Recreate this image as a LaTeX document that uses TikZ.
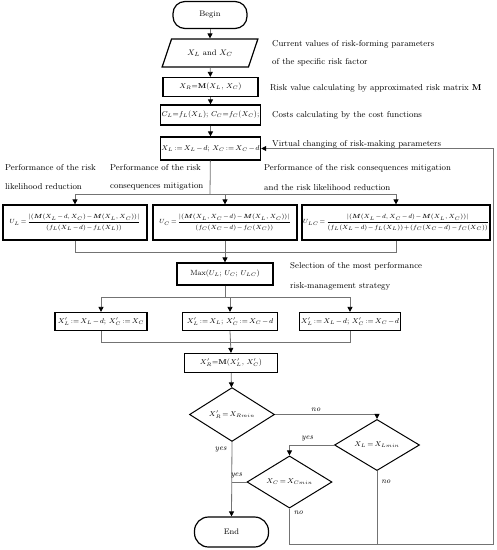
\documentclass[tikz,border=0pt]{standalone}
\usetikzlibrary{shapes.geometric,arrows.meta}
\usepackage{amsmath}

\begin{document}
\begin{tikzpicture}[x=1pt,y=1pt,yscale=-1,
    box/.style={draw,line width=1.2pt,inner sep=1pt,font=\fontsize{7.5}{9}\selectfont},
    term/.style={box,rounded corners=12pt,minimum width=74pt,minimum height=27pt,font=\fontsize{8}{9}\selectfont},
    ubox/.style={box,minimum height=35pt,inner sep=0.5pt,font=\fontsize{6.4}{7.5}\selectfont},
    cond/.style={draw,line width=1pt,diamond,inner sep=0pt,minimum width=85pt,minimum height=36pt,font=\fontsize{7.5}{9}\selectfont},
    note/.style={anchor=west,inner sep=0pt,font=\fontsize{8.6}{10}\selectfont},
    lbl/.style={inner sep=1pt,font=\fontsize{8}{9}\selectfont\itshape},
    line/.style={draw=black!55,line width=0.8pt},
    arr/.style={line,-{Triangle[length=5pt,width=5pt,color=black]}}]
\useasboundingbox (0,0) rectangle (497,550);
\medmuskip=1.5mu \thickmuskip=2.5mu

% main column
\node[term] (begin) at (210,15) {Begin};
\node[box,trapezium,trapezium left angle=57,trapezium right angle=123,trapezium stretches=true,minimum width=96pt,minimum height=28pt,font=\fontsize{8}{9}\selectfont] (input) at (210,53) {$X_L$ and $X_C$};
\node[box,minimum width=95pt,minimum height=19pt] (risk) at (210.5,87) {$X_R$=$\mathbf{M}$($X_L$, $X_C$)};
\node[box,minimum width=95pt,minimum height=20pt] (cost) at (210.5,115) {$C_L$=$f_L$($X_L$); $C_C$=$f_C$($X_C$);};
\node[box,minimum width=95pt,minimum height=23pt] (virt) at (210.5,148.5) {$X_L := X_L - d$; $X_C := X_C - d$};

% performance boxes
\node[ubox,minimum width=144pt] (ul) at (75,222.5)
    {$U_L=\dfrac{|(\boldsymbol{M}(X_L-d,X_C)-\boldsymbol{M}(X_L,X_C))|}{(f_L(X_L-d)-f_L(X_L))}$};
\node[ubox,minimum width=144pt] (uc) at (225,222.5)
    {$U_C=\dfrac{|(\boldsymbol{M}(X_L,X_C-d)-\boldsymbol{M}(X_L,X_C))|}{(f_C(X_C-d)-f_C(X_C))}$};
\node[ubox,minimum width=188pt] (ulc) at (396,222.5)
    {$U_{LC}=\dfrac{|(\boldsymbol{M}(X_L-d,X_C-d)-\boldsymbol{M}(X_L,X_C))|}{(f_L(X_L-d)-f_L(X_L))+(f_C(X_C-d)-f_C(X_C))}$};
\node[box,minimum width=96pt,minimum height=22pt] (max) at (225,274) {Max($U_L$; $U_C$; $U_{LC}$)};

% strategy boxes
\node[box,minimum width=92pt,minimum height=18pt] (sl) at (101,321.5) {$X_L' := X_L - d$; $X_C' := X_C$};
\node[box,minimum width=95pt,minimum height=18pt] (sc) at (230,321.5) {$X_L' := X_L$; $X_C' := X_C - d$};
\node[box,minimum width=95pt,minimum height=18pt] (slc) at (350,321.5) {$X_L' := X_L - d$; $X_C' := X_C - d$};
\node[box,minimum width=93pt,minimum height=19pt] (newrisk) at (231,363) {$X_R'$=$\mathbf{M}$($X_L'$, $X_C'$)};

% checks
\node[cond] (chkr) at (232,414.5) {$X_R' = X_{Rmin}$};
\node[cond] (chkl) at (377,445) {$X_L = X_{Lmin}$};
\node[cond] (chkc) at (289.5,482) {$X_C = X_{Cmin}$};
\node[term,minimum height=30pt,rounded corners=14pt] (end) at (231.5,532) {End};

% notes
\node[note] (n1) at (272,44) {Current values of risk-forming parameters};
\node[note] (n2) at (272,62) {of the specific risk factor};
\node[note] (n3) at (270,88) {Risk value calculating by approximated risk matrix \textbf{M}};
\node[note] (n4) at (272,115) {Costs calculating by the cost functions};
\node[note] (n5) at (272,144) {Virtual changing of risk-making parameters};
\node[note] (n6) at (5,168) {Performance of the risk};
\node[note] (n7) at (5,186.5) {likelihood reduction};
\node[note] (n8) at (110,168) {Performance of the risk};
\node[note] (n9) at (110,187) {consequences mitigation};
\node[note] (n10) at (264,168) {Performance of the risk consequences mitigation};
\node[note] (n11) at (264,188) {and the risk likelihood reduction};
\node[note] (n12) at (290,266) {Selection of the most performance};
\node[note] (n13) at (290,286) {risk-management strategy};

\coordinate (split1) at (210,194);
\coordinate (join1) at (225,252);
\coordinate (split2) at (225,297);
\coordinate (join2) at (230,342);
\coordinate (corner) at (493,544);

% connectors
\draw[arr] (begin) -- (input);
\draw[arr] (input) -- (risk);
\draw[arr] (risk) -- (cost);
\draw[arr] (cost) -- (virt);
\draw[line] (virt) -- (split1);
\draw[arr] (split1) -| (ul.north);
\draw[arr] (split1) -| (uc.north);
\draw[arr] (split1) -| (ulc.north);
\draw[line] (ul.south) |- (join1);
\draw[line] (ulc.south) |- (join1);
\draw[arr] (uc.south) -- (max.north);
\draw[line] (max.south) -- (split2);
\draw[arr] (split2) -| (sl.north);
\draw[arr] (split2) -| (sc.north);
\draw[arr] (split2) -| (slc.north);
\draw[line] (sl.south) |- (join2);
\draw[line] (slc.south) |- (join2);
\draw[arr] (sc.south) -- (newrisk.north);
\draw[arr] (newrisk) -- (chkr);
\draw[arr] (chkr.east) -| node[lbl,pos=0.2,above=2pt] {no} (chkl.north);
\draw[arr] (chkl.west) -| node[lbl,pos=0.3,above=2pt] {yes} (chkc.north);
\draw[arr] (chkr.south) -- node[lbl,pos=0.1,left=4pt] {yes} (end.north);
\draw[line] (chkc.west) -- node[lbl,pos=0.7,above=2pt] {yes} (chkc.west -| chkr.south);
\draw[line] (chkl.south) -- node[lbl,pos=0.15,right=3pt] {no} (chkl.south |- corner);
\draw[arr] (chkc.south) -- node[lbl,pos=0.12,right=3pt] {no} (chkc.south |- corner) -- (corner) |- (virt.east);
\end{tikzpicture}
\end{document}
